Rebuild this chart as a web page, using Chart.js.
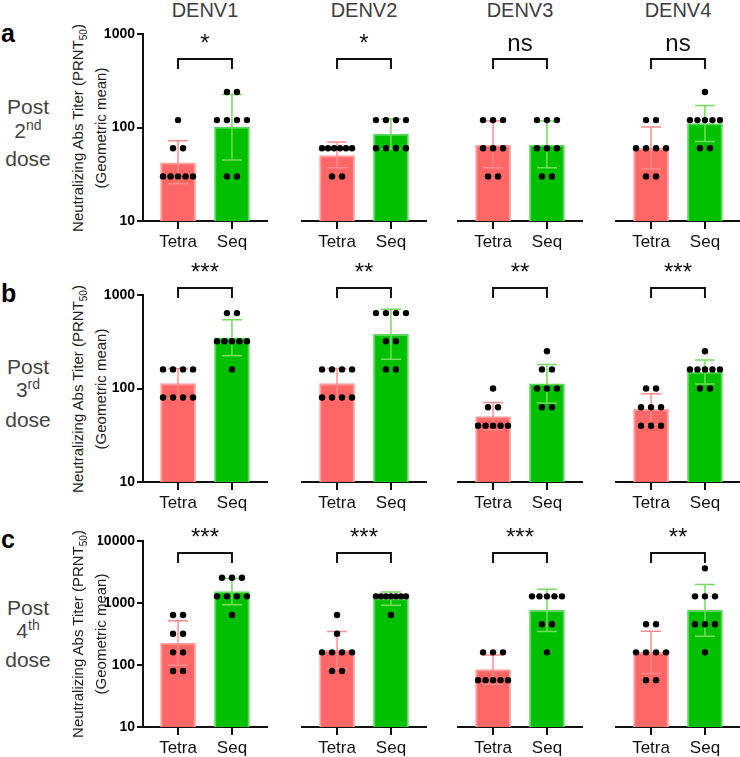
<!DOCTYPE html>
<html>
<head>
<meta charset="utf-8">
<script src="https://cdn.jsdelivr.net/npm/chart.js@4.4.0/dist/chart.umd.min.js"></script>
<style>
html, body { margin:0; padding:0; width:740px; height:757px; overflow:hidden; background:#fff; font-family: Arial, "Liberation Sans", sans-serif; }
#fig { position:relative; width:740px; height:757px; }
.abs { position:absolute; white-space:nowrap; }
canvas { position:absolute; }
.title { font-size:20px; color:#3d3d3d; line-height:20px; width:120px; text-align:center; }
.letter { font-size:25px; font-weight:bold; color:#000; line-height:25px; }
.dose { font-size:21px; color:#444; line-height:21px; width:60px; text-align:center; }
.ytitle { font-size:15px; color:#222; line-height:21px; width:260px; height:42px; text-align:center; transform:rotate(-90deg); }
</style>
</head>
<body>
<div id="fig"></div>
<script>
// groups, columns, rows
const groups = ['Tetra', 'Seq'];
const serotypes = ['DENV1', 'DENV2', 'DENV3', 'DENV4'];
const doses = ['2nd', '3rd', '4th'];
const rowLetters = ['a', 'b', 'c'];

// individual titers, [row][col]
const tetraTiters = [
  [[120,60,60,30,30,30,30,30], [60,60,60,60,60,60,30,30], [120,120,120,60,60,60,30,30], [120,120,60,60,60,60,30,30]],
  [[160,160,160,160,80,80,80,80], [160,160,160,160,80,80,80,80], [100,63,63,40,40,40,40,40], [100,100,63,63,63,40,40,40]],
  [[640,640,320,320,160,160,80,80], [640,320,160,160,160,160,80,80], [160,160,160,57,57,57,57,57], [453,453,160,160,160,160,57,57]]
];
const seqTiters = [
  [[240,240,120,120,120,120,30,30], [120,120,120,120,60,60,60,60], [120,120,120,60,60,60,30,30], [240,120,120,120,120,120,60,60]],
  [[640,640,320,320,320,320,320,160], [640,640,640,640,320,320,160,160], [250,160,160,100,100,100,63,63], [250,160,160,160,160,160,100,100]],
  [[2560,2560,2560,1280,1280,1280,1280,640], [1280,1280,1280,1280,1280,1280,1280,640], [1280,1280,1280,1280,1280,453,453,160], [3620,1280,1280,1280,453,453,453,160]]
];

// bar heights (geometric mean) and error bar ends
const tetraMean = [[42,50,65,60], [113,113,50,60], [226,174,84,160]];
const seqMean   = [[101,85,65,110], [349,380,112,150], [1522,1173,761,761]];
const tetraHi   = [[72,70,117,101], [164,164,71,88], [517,346,145,350]];
const tetraLo   = [[25,37,37,36], [78,78,36,41], [99,88,49,73]];
const seqHi     = [[226,123,117,172], [544,703,181,202], [2484,1499,1670,1993]];
const seqLo     = [[45,59,37,71], [224,206,70,112], [933,918,347,291]];

const significance = [['*','*','ns','ns'], ['***','**','**','***'], ['***','***','***','**']];
const yMax = [1000, 1000, 10000];
const yTicks = [[10,100,1000], [10,100,1000], [10,100,1000,10000]];

// layout
const L = [143, 302, 458, 616];
const T = [34, 295, 541];
const H = [187, 187, 186];
const PAD_TOP = 50, YAXIS_W = 45, XAXIS_H = 36, PLOT_W = 124, PAD_R = 4;
const X_MIN = -0.65, X_MAX = 1.65;
const PX_PER_UNIT = PLOT_W / (X_MAX - X_MIN);
const bracketOffset = [25, -7, 12];

const fillColors = ['#ff6666', '#00c000'];
const edgeColors = ['#ff9d9d', '#5cd65c'];
const errColors = ['#ff8c8c', '#74dc5e'];

Chart.defaults.font.family = 'Arial, "Liberation Sans", sans-serif';

const fig = document.getElementById('fig');

function addDiv(cls, html, left, top) {
  const d = document.createElement('div');
  d.className = 'abs ' + cls;
  d.innerHTML = html;
  d.style.left = left + 'px';
  d.style.top = top + 'px';
  fig.appendChild(d);
  return d;
}

// spread equal values side by side
function dotPoints(titers, g) {
  const counts = {};
  titers.forEach(v => counts[v] = (counts[v] || 0) + 1);
  const seen = {};
  return titers.map(v => {
    const n = counts[v];
    seen[v] = seen[v] === undefined ? 0 : seen[v] + 1;
    const gap = n >= 5 ? 30 / (n - 1) : 10;
    return {x: g + (seen[v] - (n - 1) / 2) * gap / PX_PER_UNIT, y: v};
  });
}

serotypes.forEach((s, c) => addDiv('title', s, L[c] + PLOT_W / 2 - 60, 0));

const doseTops = [[96, 120, 148], [356, 379, 409], [597, 620, 649]];
const letterTops = [20.5, 280.5, 527];

for (let r = 0; r < 3; r++) {
  addDiv('letter', rowLetters[r], 1, letterTops[r]);
  const num = doses[r].slice(0, 1), suf = doses[r].slice(1);
  addDiv('dose', 'Post', -2, doseTops[r][0]);
  addDiv('dose', num + '<span style="font-size:14px;position:relative;top:-8px">' + suf + '</span>', -2, doseTops[r][1]);
  addDiv('dose', 'dose', -2, doseTops[r][2]);
  const cy = T[r] + H[r] / 2;
  addDiv('ytitle', 'Neutralizing Abs Titer (PRNT<span style="font-size:10px;position:relative;top:4px">50</span>)<br>(Geometric mean)', 87.5 - 130, cy - 21);

  for (let c = 0; c < 4; c++) {
    const cv = document.createElement('canvas');
    const w = YAXIS_W + PLOT_W + PAD_R, h = PAD_TOP + H[r] + XAXIS_H;
    cv.width = w; cv.height = h;
    cv.style.width = w + 'px'; cv.style.height = h + 'px';
    cv.style.left = (L[c] - YAXIS_W) + 'px';
    cv.style.top = (T[r] - PAD_TOP) + 'px';
    fig.appendChild(cv);

    const means = [tetraMean[r][c], seqMean[r][c]];
    const his = [tetraHi[r][c], seqHi[r][c]];
    const los = [tetraLo[r][c], seqLo[r][c]];
    const sig = significance[r][c];

    new Chart(cv, {
      type: 'bar',
      data: {
        datasets: [{
          type: 'scatter',
          data: dotPoints(tetraTiters[r][c], 0).concat(dotPoints(seqTiters[r][c], 1)),
          pointRadius: 3.2,
          pointBackgroundColor: '#000',
          pointBorderWidth: 0,
          clip: false,
          order: 0
        }, {
          type: 'bar',
          data: means.map((m, g) => ({x: g, y: m})),
          backgroundColor: fillColors,
          borderColor: edgeColors,
          borderWidth: 2,
          barThickness: 35,
          order: 1
        }]
      },
      options: {
        responsive: false,
        animation: false,
        layout: {padding: {top: PAD_TOP, left: c === 0 ? 0 : YAXIS_W, right: PAD_R, bottom: 0}},
        plugins: {legend: {display: false}, tooltip: {enabled: false}},
        scales: {
          x: {
            type: 'linear', min: X_MIN, max: X_MAX, offset: false,
            afterBuildTicks: sc => { sc.ticks = [{value: 0}, {value: 1}]; },
            afterFit: sc => { sc.height = XAXIS_H; sc.paddingLeft = 0; sc.paddingRight = 0; },
            ticks: {callback: v => groups[v], color: '#111', font: {size: 17}, padding: 3, maxRotation: 0, autoSkip: false},
            grid: {display: true, offset: false, drawOnChartArea: false, drawTicks: true, tickLength: 8, color: '#111', lineWidth: 2},
            border: {display: true, color: '#111', width: 2}
          },
          y: {
            type: 'logarithmic', min: 10, max: yMax[r], display: c === 0,
            afterBuildTicks: sc => { sc.ticks = yTicks[r].map(v => ({value: v})); },
            afterFit: sc => {
              sc.width = c === 0 ? YAXIS_W : 0;
              sc.paddingTop = 0; sc.paddingBottom = 0;
            },
            ticks: {callback: v => String(v), color: '#000', font: {size: 14, weight: 'bold'}, padding: 2},
            grid: {display: true, drawOnChartArea: false, drawTicks: true, tickLength: 6, color: '#111', lineWidth: 2},
            border: {display: true, color: '#111', width: 2}
          }
        }
      },
      plugins: [{
        id: 'errorBars',
        afterDatasetDraw(chart, args) {
          if (args.meta.type !== 'bar') return;
          const ctx = chart.ctx, xs = chart.scales.x, ys = chart.scales.y;
          ctx.save();
          ctx.lineWidth = 1.5;
          his.forEach((hi, g) => {
            const px = xs.getPixelForValue(g);
            const yh = ys.getPixelForValue(hi), yl = ys.getPixelForValue(los[g]);
            ctx.strokeStyle = errColors[g];
            ctx.beginPath();
            ctx.moveTo(px, yl); ctx.lineTo(px, yh);
            ctx.moveTo(px - 10, yh); ctx.lineTo(px + 10, yh);
            ctx.moveTo(px - 10, yl); ctx.lineTo(px + 10, yl);
            ctx.stroke();
          });
          ctx.restore();
        }
      }, {
        id: 'bracket',
        afterDraw(chart) {
          const ctx = chart.ctx, xs = chart.scales.x;
          const top = chart.chartArea.top + bracketOffset[r];
          const x0 = xs.getPixelForValue(0), x1 = xs.getPixelForValue(1);
          ctx.save();
          ctx.strokeStyle = '#111';
          ctx.lineWidth = 2;
          ctx.beginPath();
          ctx.moveTo(x0, top + 10); ctx.lineTo(x0, top); ctx.lineTo(x1, top); ctx.lineTo(x1, top + 10);
          ctx.stroke();
          ctx.fillStyle = '#111';
          ctx.font = '24px Arial, "Liberation Sans", sans-serif';
          ctx.textAlign = 'center';
          ctx.textBaseline = 'alphabetic';
          ctx.fillText(sig, (x0 + x1) / 2, top - 8);
          ctx.restore();
        }
      }]
    });
  }
}
</script>
</body>
</html>
